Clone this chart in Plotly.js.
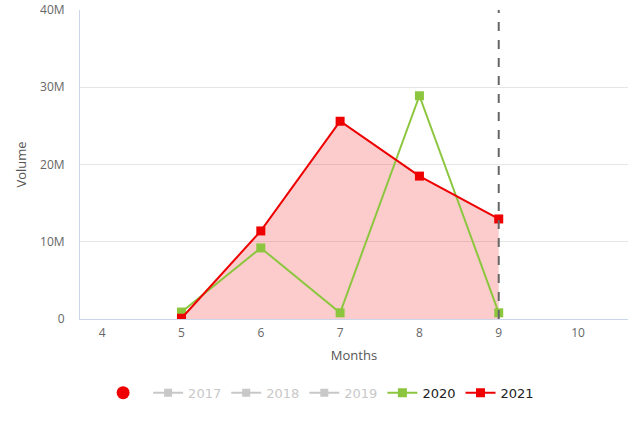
<!DOCTYPE html>
<html>
<head>
<meta charset="utf-8">
<script src="https://cdn.plot.ly/plotly-3.0.1.min.js"></script>
<style>html,body{margin:0;padding:0;background:#fff;}#chart{width:639px;height:426px;}</style>
</head>
<body>
<div id="chart"></div>
<script>
const months = [5, 6, 7, 8, 9];
const vol2020 = [0.9e6, 9.2e6, 0.8e6, 28.9e6, 0.8e6];
const vol2021 = [0.1e6, 11.4e6, 25.6e6, 18.5e6, 12.95e6];
const yTickVals = [0, 10e6, 20e6, 30e6, 40e6];
const yTickText = ['0', '10M', '20M', '30M', '40M'];
const xTickVals = [4, 5, 6, 7, 8, 9, 10];
const currentMonth = 9;

const grey = '#c8c8c8';
const traces = [
  {x:[null], y:[null], mode:'markers', name:'', marker:{color:'#ee0000', size:13, symbol:'circle'}, showlegend:true},
  {x:[null], y:[null], mode:'lines+markers', name:'2017', line:{color:grey, width:2}, marker:{color:grey, symbol:'square', size:8}, showlegend:true},
  {x:[null], y:[null], mode:'lines+markers', name:'2018', line:{color:grey, width:2}, marker:{color:grey, symbol:'square', size:8}, showlegend:true},
  {x:[null], y:[null], mode:'lines+markers', name:'2019', line:{color:grey, width:2}, marker:{color:grey, symbol:'square', size:8}, showlegend:true},
  {x:months, y:vol2021, mode:'none', fill:'tozeroy', fillcolor:'rgba(240,0,0,0.2)', showlegend:false, hoverinfo:'skip'},
  {x:months, y:vol2020, mode:'lines+markers', name:'<span style="color:#222">2020</span>', line:{color:'#8cc63f', width:2}, marker:{color:'#8cc63f', symbol:'square', size:9}},
  {x:months, y:vol2021, mode:'lines+markers', name:'<span style="color:#222">2021</span>', line:{color:'#ee0000', width:2}, marker:{color:'#ee0000', symbol:'square', size:9}}
];

const layout = {
  width:639, height:426,
  margin:{l:80, r:11, t:10, b:107},
  paper_bgcolor:'#fff', plot_bgcolor:'#fff',
  font:{family:'Open Sans, Noto Sans, sans-serif', color:'#666', size:12},
  showlegend:true,
  xaxis:{
    range:[3.72, 10.63], tickvals:xTickVals, ticktext:xTickVals.map(String),
    showgrid:false, zeroline:false, showline:true, linecolor:'#ccd6eb', linewidth:1,
    ticks:'', tickfont:{size:12, color:'#666'}, ticklabelstandoff:3,
    title:{text:'Months', font:{size:13, color:'#555'}, standoff:10}
  },
  yaxis:{
    range:[0, 40e6], tickvals:yTickVals, ticktext:yTickText,
    showgrid:true, gridcolor:'#e6e6e6', zeroline:false, showline:true, linecolor:'#ccd6eb', linewidth:1,
    ticks:'', tickfont:{size:12, color:'#666'}, ticklabelstandoff:12,
    title:{text:'Volume', font:{size:13, color:'#555'}, standoff:10}
  },
  legend:{orientation:'h', x:0.44, xanchor:'center', y:-0.19, yanchor:'top',
    font:{family:'DejaVu Sans, sans-serif', size:13, color:'#c8c8c8'}, itemwidth:30, tracegroupgap:0},
  shapes:[{type:'line', xref:'x', yref:'paper', x0:currentMonth, x1:currentMonth, y0:0, y1:1,
    line:{color:'#666', width:2, dash:'dash'}}]
};

Plotly.newPlot('chart', traces, layout, {displayModeBar:false, staticPlot:true});
</script>
</body>
</html>
